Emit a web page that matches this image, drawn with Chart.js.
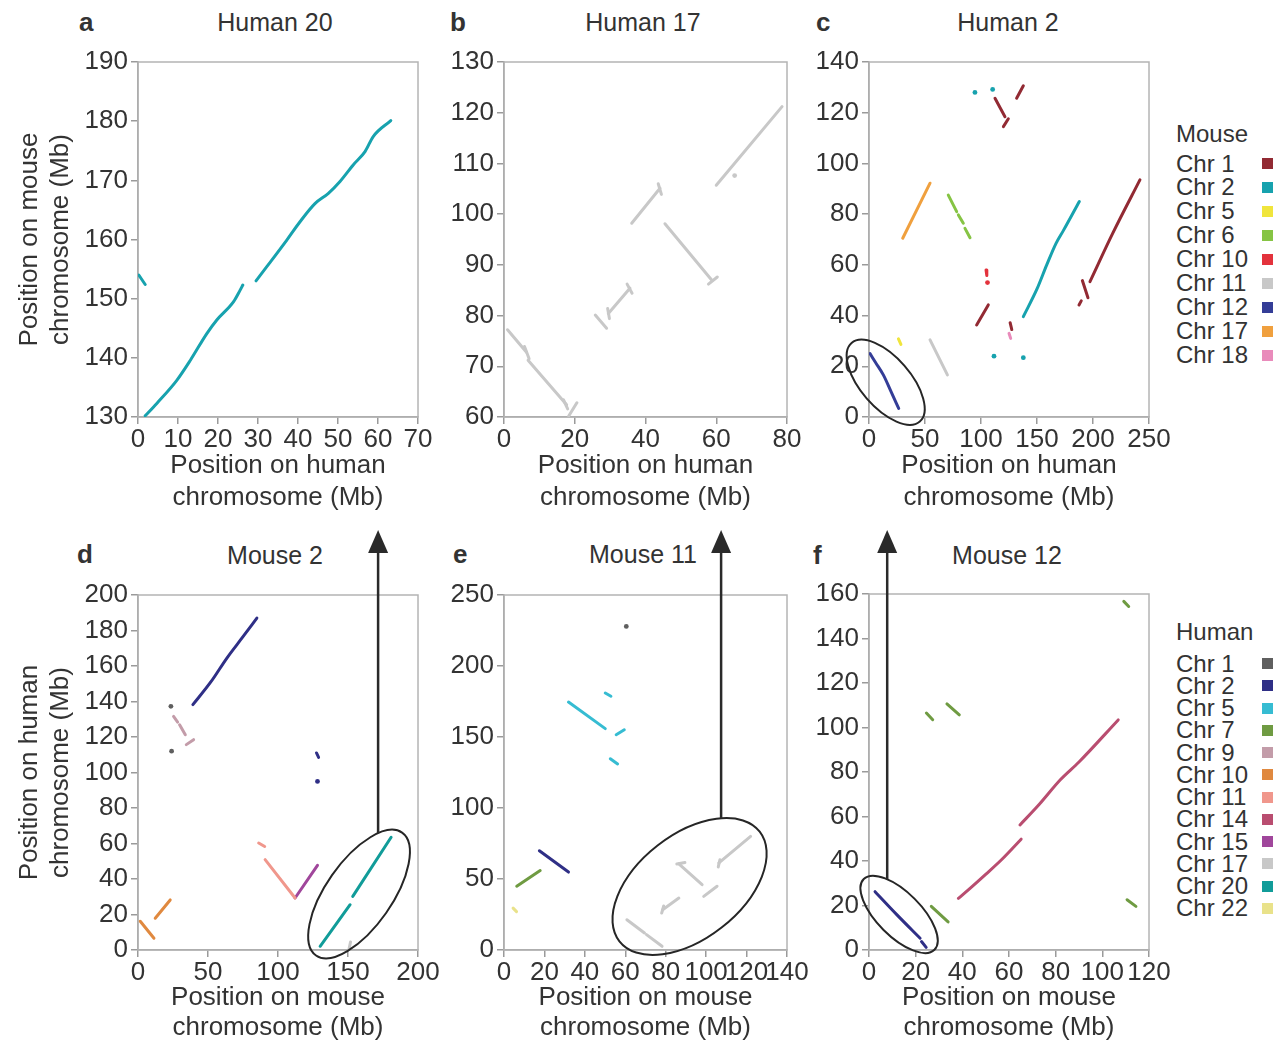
<!DOCTYPE html>
<html>
<head>
<meta charset="utf-8">
<script src="https://cdn.jsdelivr.net/npm/chart.js@4.4.0/dist/chart.umd.min.js"></script>
<style>
body{margin:0;background:#fff;width:1285px;height:1042px;position:relative;overflow:hidden;font-family:"Liberation Sans",Arial,sans-serif;color:#333}
canvas.p{position:absolute}
.t{position:absolute;font-size:25px;line-height:30px;white-space:nowrap;transform:translateX(-50%)}
.l{position:absolute;font-size:26px;font-weight:bold;line-height:30px}
.lg{position:absolute;left:1176px;font-size:24px;line-height:24px;white-space:nowrap}
.sw{position:absolute;left:1262px;width:11px;height:11px}
#ov{position:absolute;left:0;top:0;pointer-events:none}
</style>
</head>
<body>
<div class="l" style="left:79px;top:7px">a</div><div class="t" style="left:275px;top:7px">Human 20</div>
<div class="l" style="left:450px;top:7px">b</div><div class="t" style="left:643px;top:7px">Human 17</div>
<div class="l" style="left:816px;top:7px">c</div><div class="t" style="left:1008px;top:7px">Human 2</div>
<div class="l" style="left:77px;top:539px">d</div><div class="t" style="left:275px;top:540px">Mouse 2</div>
<div class="l" style="left:453px;top:539px">e</div><div class="t" style="left:643px;top:539px">Mouse 11</div>
<div class="l" style="left:813px;top:540px">f</div><div class="t" style="left:1007px;top:540px">Mouse 12</div>
<div id="legends"></div>
<canvas id="ov" width="1285" height="1042"></canvas>
<script>
// legend entries
const mouseChr = ['Chr 1','Chr 2','Chr 5','Chr 6','Chr 10','Chr 11','Chr 12','Chr 17','Chr 18'];
const mouseColors = ['#922a33','#17a2ae','#f0e53c','#86c444','#e3323c','#c8c8c8','#343d97','#f0a03e','#e98bbb'];
const humanChr = ['Chr 1','Chr 2','Chr 5','Chr 7','Chr 9','Chr 10','Chr 11','Chr 14','Chr 15','Chr 17','Chr 20','Chr 22'];
const humanColors = ['#5f5f5f','#2f2f86','#36bcd2','#6f9b42','#c39ca9','#e0893f','#f0978c','#b94d70','#a0469b','#c8c8c8','#119c99','#e9e28a'];

// tick labels
const aX = [0,10,20,30,40,50,60,70],  aY = [130,140,150,160,170,180,190];
const bX = [0,20,40,60,80],           bY = [60,70,80,90,100,110,120,130];
const cX = [0,50,100,150,200,250],    cY = [0,20,40,60,80,100,120,140];
const dX = [0,50,100,150,200],        dY = [0,20,40,60,80,100,120,140,160,180,200];
const eX = [0,20,40,60,80,100,120,140], eY = [0,50,100,150,200,250];
const fX = [0,20,40,60,80,100,120],   fY = [0,20,40,60,80,100,120,140,160];

// a: human chr 20 vs mouse (all mouse chr 2)
const a_m2 = [
  [[0.2,154.0],[1.8,152.4]],
  [[1.8,130.2],[4.7,132.3],[9.7,136.2],[13.1,139.6],[17.2,144.1],[19.7,146.4],[23.9,149.5],[25.5,151.4],[26.2,152.3]],
  [[29.5,153.0],[32.2,155.4],[37.2,159.9],[40.5,163.0],[44.3,166.1],[47.6,167.8],[50.5,169.8],[53.8,172.6],[56.8,174.9],[58.8,177.4],[63.2,180.1]]
];
// b: human chr 17 vs mouse (mouse chr 11)
const b_m11 = [
  [[1.0,77.2],[6.3,72.8]], [[5.8,73.9],[7.1,71.5]],
  [[6.8,71.2],[17.7,62.4]], [[16.8,63.4],[18.0,61.6]],
  [[18.3,60.2],[20.6,62.8]],
  [[25.8,80.1],[29.0,77.5]],
  [[29.3,81.4],[29.8,79.4]], [[29.5,80.4],[35.6,85.4]], [[34.8,86.2],[36.2,84.4]],
  [[36.1,98.2],[44.1,105.1]], [[43.6,106.0],[44.5,103.9]],
  [[45.5,98.1],[58.7,87.0]], [[57.8,86.2],[60.3,87.6]],
  [[60.0,105.7],[78.6,121.2]],
  [[65.2,107.6]]
];
// c: human chr 2 vs mouse
const c_m1 = [
  [[112.5,125.7],[121.4,118.4]], [[120.0,114.5],[124.4,117.6]],
  [[131.8,125.7],[137.8,130.6]],
  [[96.1,36.3],[106.5,44.2]],
  [[126.0,37.2],[127.5,34.5]],
  [[197.3,53.4],[218.0,72.8],[241.9,93.5]],
  [[190.5,53.8],[195.5,47.0]],
  [[187.5,44.2],[189.5,45.8]]
];
const c_m2 = [
  [[94.6,128.0]], [[110.4,129.2]], [[111.6,24.0]], [[137.8,23.4]],
  [[137.8,39.6],[150.0,50.5],[158.6,59.9],[167.0,68.5],[173.5,73.5],[187.8,85.0]]
];
const c_m5 = [[[26.3,30.8],[28.5,28.6]]];
const c_m6 = [[[70.8,87.5],[78.3,81.0]], [[79.8,79.7],[84.2,76.4]], [[85.7,74.4],[90.2,70.7]]];
const c_m10 = [[[104.5,58.0],[105.2,55.8]], [[105.8,53.0]]];
const c_m11 = [[[54.5,30.4],[70.0,16.6]]];
const c_m12 = [[[0.9,25.0],[6.0,21.4],[12.8,16.6],[20.0,9.7],[26.5,3.4]]];
const c_m17 = [[[30.1,70.5],[54.5,92.2]]];
const c_m18 = [[[125.0,33.0],[126.5,31.0]]];
// d: mouse chr 2 vs human
const d_h1 = [[[23.5,137.3]], [[24.0,112.0]]];
const d_h2 = [
  [[39.2,138.2],[52.0,151.0],[63.5,164.5],[75.0,176.5],[84.9,187.0]],
  [[127.5,111.0],[129.0,108.5]], [[128.2,95.0]]
];
const d_h9 = [[[25.4,131.6],[28.3,128.4]], [[29.7,126.9],[33.8,121.3]], [[34.5,115.7],[39.7,118.5]]];
const d_h10 = [[[1.6,16.2],[11.4,6.6]], [[12.3,17.9],[23.0,28.2]]];
const d_h11 = [[[86.2,60.3],[90.5,58.3]], [[90.8,50.9],[112.2,29.3]]];
const d_h15 = [[[112.2,29.3],[128.2,47.7]]];
const d_h17 = [[[150.8,0.8],[151.8,4.5]]];
const d_h20 = [[[130.1,2.1],[151.5,25.5]], [[153.4,30.2],[180.8,63.5]]];
// e: mouse chr 11 vs human
const e_h1 = [[[60.5,227.9]]];
const e_h2 = [[[17.5,69.9],[31.9,54.9]]];
const e_h5 = [
  [[31.9,174.6],[50.1,155.9]], [[50.1,181.0],[52.9,178.7]],
  [[55.5,151.6],[59.5,155.1]], [[52.6,134.7],[56.2,131.0]]
];
const e_h7 = [[[6.3,44.9],[17.9,55.9]]];
const e_h17 = [
  [[60.8,21.3],[69.5,12.0]], [[70.5,10.8],[78.2,2.6]],
  [[78.0,26.0],[79.0,31.0]], [[78.5,28.4],[86.5,36.6]],
  [[85.5,60.5],[89.5,61.6]], [[86.5,60.6],[98.0,46.0]],
  [[98.8,37.8],[105.4,44.9]],
  [[106.0,58.5],[106.8,63.5]], [[106.3,61.3],[122.0,80.0]]
];
const e_h22 = [[[4.5,29.5],[6.2,27.0]]];
// f: mouse chr 12 vs human
const f_h2 = [[[2.6,26.2],[12.0,15.8],[21.9,5.3]], [[22.5,3.8],[24.5,1.2]]];
const f_h7 = [
  [[109.2,156.7],[111.3,154.4]], [[24.6,106.5],[27.3,103.5]], [[33.4,110.6],[38.7,105.7]],
  [[26.7,19.6],[33.9,12.6]], [[110.6,22.6],[114.4,19.6]]
];
const f_h14 = [
  [[38.3,23.2],[43.3,27.7],[50.0,34.0],[57.0,40.8],[65.2,49.8]],
  [[64.7,56.2],[73.0,65.5],[81.9,76.4],[90.0,84.5],[106.8,103.4]]
];

const M = n => mouseColors[mouseChr.indexOf('Chr ' + n)];
const H = n => humanColors[humanChr.indexOf('Chr ' + n)];

const humanTitle = ['Position on human', 'chromosome (Mb)'];
const mouseTitle = ['Position on mouse', 'chromosome (Mb)'];

// canvas box [left, top, width, height] and plot box [left, top, right, bottom] in page pixels
const panels = [
  {id:'pa', box:[0,40,460,480],   plot:[138,62,418,417], xt:aX, yt:aY, xTitle:humanTitle, yTitle:mouseTitle, tb:7, lh:1.2,
   series:[[a_m2, M(2)]]},
  {id:'pb', box:[440,40,400,480], plot:[504,62,787,417], xt:bX, yt:bY, xTitle:humanTitle, tb:7, lh:1.2,
   series:[[b_m11, M(11)]]},
  {id:'pc', box:[810,40,400,480], plot:[869,62,1149,417], xt:cX, yt:cY, xTitle:humanTitle, tb:7, lh:1.2,
   series:[[c_m11, M(11)],[c_m5, M(5)],[c_m18, M(18)],[c_m10, M(10)],[c_m6, M(6)],[c_m17, M(17)],[c_m12, M(12)],[c_m2, M(2)],[c_m1, M(1)]]},
  {id:'pd', box:[0,560,460,482],   plot:[138,595,418,950], xt:dX, yt:dY, xTitle:mouseTitle, yTitle:humanTitle, tb:0, lh:1.12,
   series:[[d_h17, H(17)],[d_h9, H(9)],[d_h10, H(10)],[d_h11, H(11)],[d_h15, H(15)],[d_h20, H(20)],[d_h2, H(2)],[d_h1, H(1)]]},
  {id:'pe', box:[440,560,400,482], plot:[504,595,787,950], xt:eX, yt:eY, xTitle:mouseTitle, tb:0, lh:1.12,
   series:[[e_h22, H(22)],[e_h17, H(17)],[e_h7, H(7)],[e_h5, H(5)],[e_h2, H(2)],[e_h1, H(1)]]},
  {id:'pf', box:[810,560,400,482], plot:[869,594,1149,950], xt:fX, yt:fY, xTitle:mouseTitle, tb:0, lh:1.12,
   series:[[f_h7, H(7)],[f_h14, H(14)],[f_h2, H(2)]]}
];

// ellipses: centre in data units, semi-axes in px, angle in degrees (screen)
const ellipses = [
  {panel:'pc', cx:14.9, cy:13.7, a:52, b:25, ang:49},
  {panel:'pd', cx:157.9, cy:31.5, a:75, b:33, ang:-55},
  {panel:'pe', cx:91.8, cy:44.7, a:89, b:52, ang:-38},
  {panel:'pf', cx:12.9, cy:16.0, a:50, b:22, ang:45}
];
// arrows rise from the ellipse at this data x up to tipY (page px)
const arrows = [
  {ell:1, x:171.5, tipY:530},
  {ell:2, x:107.4, tipY:530},
  {ell:3, x:7.8, tipY:530}
];

Chart.defaults.font.family = '"Liberation Sans", Arial, Helvetica, sans-serif';
Chart.defaults.color = '#333';

const frame = {
  id: 'frame',
  beforeDatasetsDraw(chart) {
    const {ctx, chartArea: c} = chart;
    ctx.save();
    ctx.strokeStyle = '#b4b4b4';
    ctx.lineWidth = 1.5;
    ctx.strokeRect(c.left, c.top, c.right - c.left, c.bottom - c.top);
    ctx.restore();
  }
};

function axis(ticks, fitFn, title, titlePad, lh, tickPad) {
  return {
    type: 'linear',
    min: ticks[0], max: ticks[ticks.length - 1],
    afterBuildTicks: s => { s.ticks = ticks.map(v => ({value: v})); },
    afterFit: fitFn,
    grid: {drawOnChartArea: false, drawTicks: true, tickLength: 7, color: '#9a9a9a', lineWidth: 1.5},
    border: {display: true, color: '#9a9a9a', width: 1.5},
    ticks: {font: {size: 26}, color: '#333', autoSkip: false, maxRotation: 0, minRotation: 0, padding: tickPad},
    title: title ? {display: true, text: title, color: '#333', font: {size: 26, lineHeight: lh}, padding: titlePad} : {display: false}
  };
}

const charts = {};
panels.forEach(p => {
  const [L, T, W, Hh] = p.box;
  const cv = document.createElement('canvas');
  cv.className = 'p';
  cv.id = p.id;
  cv.width = W; cv.height = Hh;
  cv.style.left = L + 'px'; cv.style.top = T + 'px';
  document.body.insertBefore(cv, document.getElementById('ov'));

  const yW = p.plot[0] - L, padTop = p.plot[1] - T, padRight = L + W - p.plot[2], xH = T + Hh - p.plot[3];
  const datasets = [];
  p.series.forEach(([segs, color]) => segs.forEach(seg => {
    datasets.push({
      data: seg.map(q => ({x: q[0], y: q[1]})),
      showLine: true, borderColor: color, backgroundColor: color,
      borderWidth: 3, borderCapStyle: 'round', borderJoinStyle: 'round',
      cubicInterpolationMode: seg.length > 2 ? 'monotone' : 'default',
      pointRadius: seg.length === 1 ? 2.4 : 0, pointBorderWidth: 0
    });
  }));

  charts[p.id] = new Chart(cv, {
    type: 'scatter',
    data: {datasets},
    options: {
      responsive: false, animation: false, events: [], devicePixelRatio: 1,
      layout: {padding: {left: 0, top: padTop, right: padRight, bottom: 0}},
      plugins: {legend: {display: false}, tooltip: {enabled: false}},
      scales: {
        x: axis(p.xt, s => { s.height = xH; }, p.xTitle, {top: 4, bottom: p.tb}, p.lh, 0),
        y: axis(p.yt, s => { s.width = yW; }, p.yTitle, {top: 14, bottom: 0}, 1.2, 3)
      }
    },
    plugins: [frame]
  });
});

// legends
const lg = document.getElementById('legends');
function legend(head, headY, names, colors, y0, step) {
  let h = `<div class="lg" style="top:${headY - 12}px">${head}</div>`;
  names.forEach((n, i) => {
    const y = y0 + i * step;
    h += `<div class="lg" style="top:${y - 12}px">${n}</div>`;
    h += `<div class="sw" style="top:${y - 5.5}px;background:${colors[i]}"></div>`;
  });
  lg.insertAdjacentHTML('beforeend', h);
}
legend('Mouse', 134, mouseChr, mouseColors, 163.5, 23.95);
legend('Human', 632, humanChr, humanColors, 663.5, 22.27);

// ellipses and arrows on top
const ov = document.getElementById('ov').getContext('2d');
function toPage(id, x, y) {
  const p = panels.find(q => q.id === id), ch = charts[id];
  return [p.box[0] + ch.scales.x.getPixelForValue(x), p.box[1] + ch.scales.y.getPixelForValue(y)];
}
const ellPix = ellipses.map(e => {
  const [cx, cy] = toPage(e.panel, e.cx, e.cy);
  return {cx, cy, a: e.a, b: e.b, r: e.ang * Math.PI / 180, panel: e.panel};
});
ov.strokeStyle = '#262626';
ov.lineWidth = 2;
ellPix.forEach(e => {
  ov.beginPath();
  ov.ellipse(e.cx, e.cy, e.a, e.b, e.r, 0, Math.PI * 2);
  ov.stroke();
});
arrows.forEach(ar => {
  const e = ellPix[ar.ell];
  const X = toPage(e.panel, ar.x, 0)[0];
  // top crossing of the vertical line with the ellipse
  let yTop = e.cy, best = 1e9;
  for (let i = 0; i < 4000; i++) {
    const t = i / 4000 * Math.PI * 2;
    const px = e.cx + e.a * Math.cos(t) * Math.cos(e.r) - e.b * Math.sin(t) * Math.sin(e.r);
    const py = e.cy + e.a * Math.cos(t) * Math.sin(e.r) + e.b * Math.sin(t) * Math.cos(e.r);
    if (Math.abs(px - X) < 0.8 && py < best) { best = py; yTop = py; }
  }
  ov.strokeStyle = '#2a2a2a';
  ov.fillStyle = '#2a2a2a';
  ov.lineWidth = 2.5;
  ov.beginPath();
  ov.moveTo(X, yTop);
  ov.lineTo(X, ar.tipY + 18);
  ov.stroke();
  ov.beginPath();
  ov.moveTo(X, ar.tipY);
  ov.lineTo(X - 10, ar.tipY + 23);
  ov.lineTo(X + 10, ar.tipY + 23);
  ov.closePath();
  ov.fill();
});
</script>
</body>
</html>
